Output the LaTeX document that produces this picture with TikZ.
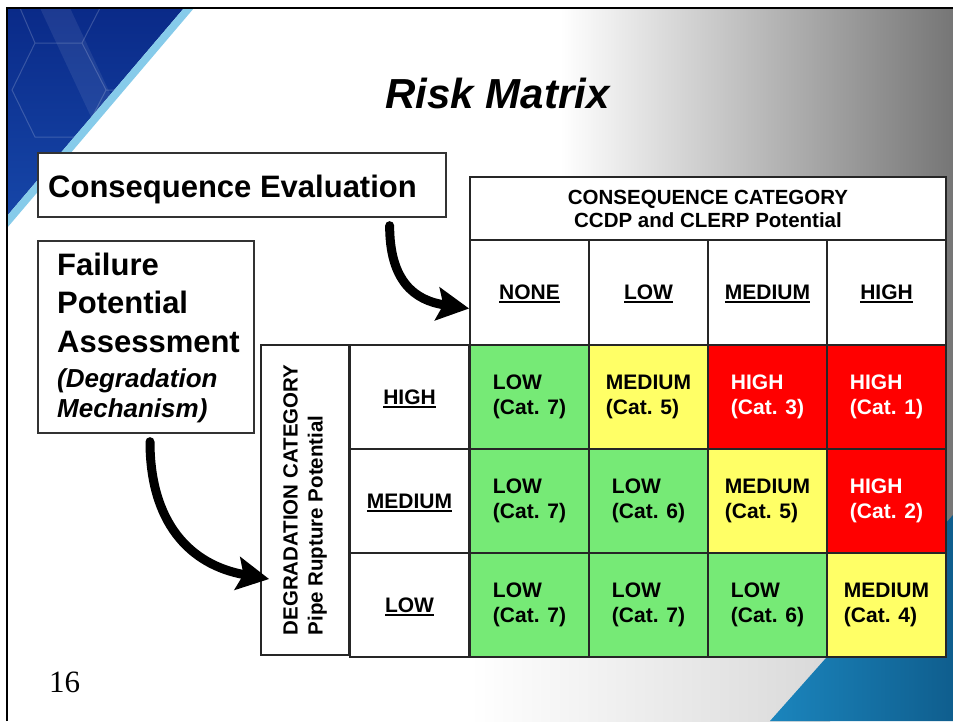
\documentclass[tikz,border=0pt]{standalone}
\usepackage{fontspec}
\setmainfont{Liberation Sans}
\newfontfamily\serifnum{Liberation Serif}
\usetikzlibrary{arrows.meta}
\definecolor{cellgreen}{HTML}{76EA76}
\definecolor{cellyellow}{HTML}{FFFF66}
\definecolor{cellred}{HTML}{FF0000}
\definecolor{darkblue}{HTML}{0A2A88}
\definecolor{midblue}{HTML}{1646A8}
\definecolor{stripeblue}{HTML}{86CBEA}
\definecolor{seablue}{HTML}{1B85BD}
\definecolor{deepsea}{HTML}{0F5E8E}
\definecolor{greyend}{HTML}{767676}
\newcommand\myul[1]{\setbox0\hbox{#1}\rlap{\smash{\rule[-3.6pt]{\wd0}{2.2pt}}}\box0}
\tikzset{
  box/.style={draw=black!80, line width=1.3pt, fill=white, inner sep=0pt},
  hdr/.style={draw=black!85, line width=1.8pt, fill=white, inner sep=0pt,
    font=\bfseries\fontsize{21}{25}\selectfont},
  colhdr/.style={hdr, minimum width=119pt, minimum height=105pt},
  rowhdr/.style={hdr, minimum width=119pt, minimum height=104pt},
  cell/.style={draw=black!85, line width=1.8pt, minimum width=119pt,
    minimum height=104pt, inner sep=0pt, align=left,
    font=\bfseries\fontsize{21}{25}\selectfont},
  lowc/.style={cell, fill=cellgreen},
  medc/.style={cell, fill=cellyellow},
  highc/.style={cell, fill=cellred, text=white},
  bigtxt/.style={anchor=base west, inner sep=0pt, font=\bfseries\fontsize{31}{36}\selectfont},
  ittxt/.style={anchor=base west, inner sep=0pt, font=\bfseries\itshape\fontsize{26}{30}\selectfont},
  bigarrow/.style={line width=9pt, line cap=round,
    -{Stealth[length=32pt,width=33pt,inset=6pt]}},
}
\begin{document}
\begin{tikzpicture}[x=1pt,y=-1pt]
\useasboundingbox (0,0) rectangle (953,721);
\fill[white] (0,0) rectangle (953,721);
% background
\shade[left color=white, right color=greyend] (560,8) rectangle (953,657);
\shade[left color=white, right color=black!15] (470,657) rectangle (830,721);
\shade[left color=seablue, right color=deepsea] (770,721) -- (953,515) -- (953,721) -- cycle;
\shade[top color=darkblue, bottom color=midblue] (7,8) -- (184,8) -- (7,216) -- cycle;
\begin{scope}
  \clip (7,8) -- (184,8) -- (7,216) -- cycle;
  \draw[white, opacity=0.18, line width=1pt]
    (35,43) -- (82,43) -- (106,90) -- (82,137) -- (35,137) -- (12,90) -- cycle
    (82,43) -- (100,8) (106,90) -- (150,90) (82,137) -- (100,180) (35,43) -- (20,8);
  \fill[white, opacity=0.08] (40,8) -- (70,8) -- (160,200) -- (130,200) -- cycle;
\end{scope}
\fill[stripeblue] (184,8) -- (194,8) -- (7,228) -- (7,216) -- cycle;
\draw[line width=2.6pt, black] (7,721) -- (7,8) -- (953,8);
% title
\node[anchor=base, inner sep=0pt, font=\bfseries\itshape\fontsize{42}{48}\selectfont] (title) at (497.5,108) {Risk Matrix};
% left boxes
\node[box, minimum width=408pt, minimum height=64pt] (ce) at (242,185) {};
\node[bigtxt] (ceT) at (48,197) {Consequence Evaluation};
\node[box, minimum width=216pt, minimum height=192pt] (fpa) at (146,337) {};
\node[bigtxt] (fa1) at (57,275) {Failure};
\node[bigtxt] (fa2) at (57,313) {Potential};
\node[bigtxt] (fa3) at (57,352) {Assessment};
\node[ittxt] (fa4) at (57,387) {(Degradation};
\node[ittxt] (fa5) at (57,417) {Mechanism)};
% consequence header
\node[hdr, minimum width=476pt, minimum height=63pt, align=center,
  font=\bfseries\fontsize{20.5}{23}\selectfont] (cc) at (708,208.5)
  {CONSEQUENCE CATEGORY\\CCDP and CLERP Potential};
\node[colhdr] (hNone) at (529.5,292.5) {\myul{NONE}};
\node[colhdr] (hLow) at (648.5,292.5) {\myul{LOW}};
\node[colhdr] (hMed) at (767.5,292.5) {\myul{MEDIUM}};
\node[colhdr] (hHigh) at (886.5,292.5) {\myul{HIGH}};
% degradation header
\node[hdr, minimum width=88pt, minimum height=310pt] (dc) at (305,500) {};
\node[rotate=90, align=left, inner sep=0pt, font=\bfseries\fontsize{20.5}{25}\selectfont]
  (dcT) at (dc.center) {DEGRADATION CATEGORY\\Pipe Rupture Potential};
\node[rowhdr] (rHigh) at (409.5,397) {\myul{HIGH}};
\node[rowhdr] (rMed) at (409.5,501) {\myul{MEDIUM}};
\node[rowhdr] (rLow) at (409.5,605) {\myul{LOW}};
% matrix cells
\node[lowc]  (c11) at (529.5,397) {LOW\\(Cat. 7)};
\node[medc]  (c12) at (648.5,397) {MEDIUM\\(Cat. 5)};
\node[highc] (c13) at (767.5,397) {HIGH\\(Cat. 3)};
\node[highc] (c14) at (886.5,397) {HIGH\\(Cat. 1)};
\node[lowc]  (c21) at (529.5,501) {LOW\\(Cat. 7)};
\node[lowc]  (c22) at (648.5,501) {LOW\\(Cat. 6)};
\node[medc]  (c23) at (767.5,501) {MEDIUM\\(Cat. 5)};
\node[highc] (c24) at (886.5,501) {HIGH\\(Cat. 2)};
\node[lowc]  (c31) at (529.5,605) {LOW\\(Cat. 7)};
\node[lowc]  (c32) at (648.5,605) {LOW\\(Cat. 7)};
\node[lowc]  (c33) at (767.5,605) {LOW\\(Cat. 6)};
\node[medc]  (c34) at (886.5,605) {MEDIUM\\(Cat. 4)};
% arrows
\draw[bigarrow] ([xshift=-57pt,yshift=-8pt]ce.south east) .. controls +(0,55) and +(-55,-8) .. ([yshift=-16pt]hNone.west);
\draw[bigarrow] ([xshift=4pt,yshift=-8pt]fpa.south) .. controls +(0,80) and +(-80,-14) .. ([xshift=9pt,yshift=-79pt]dc.west);
% page number
\node[anchor=base west, inner sep=0pt, font=\serifnum\fontsize{31}{36}\selectfont] (pg) at (49,692) {16};
\end{tikzpicture}
\end{document}
